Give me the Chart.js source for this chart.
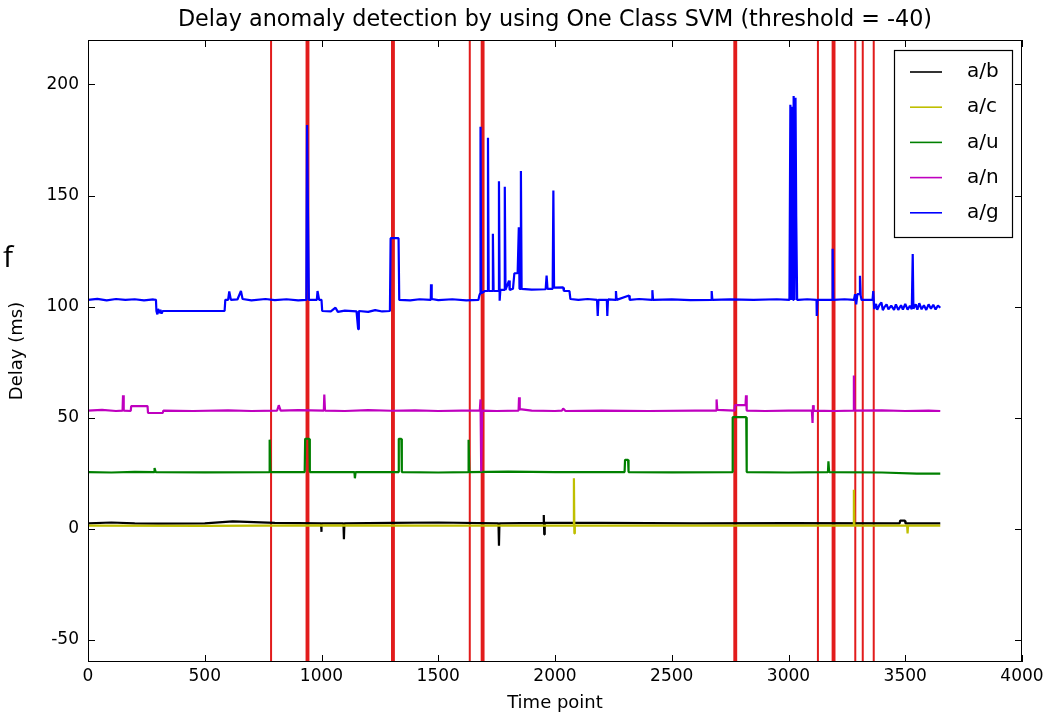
<!DOCTYPE html>
<html>
<head>
<meta charset="utf-8">
<title>Delay anomaly detection</title>
<script src="https://cdn.jsdelivr.net/npm/chart.js@4/dist/chart.umd.min.js"></script>
<style>
  html, body { margin: 0; padding: 0; background: #ffffff; }
  #wrap { position: relative; width: 1043px; height: 714px; }
  #side { position: absolute; left: 3px; top: 241px; font: 30px/1 "Open Sans", sans-serif; color: #000; }
</style>
</head>
<body>
<div id="wrap">
  <canvas id="c" width="1043" height="714"></canvas>
  <div id="side">f</div>
</div>
<script>
// Axis ranges and tick labels
const X_MIN = 0, X_MAX = 4000;
const Y_MIN = -60, Y_MAX = 220;
const X_TICKS = [0, 500, 1000, 1500, 2000, 2500, 3000, 3500, 4000];
const Y_TICKS = [-50, 0, 50, 100, 150, 200];
const TITLE = 'Delay anomaly detection by using One Class SVM (threshold = -40)';

// Time points flagged as anomalies by the detector
const ANOMALIES = [784, 936, 944, 1302, 1310, 1635, 1686, 1694, 2768, 2776,
                   3126, 3189, 3197, 3286, 3318, 3365];

// Delay series, [time point, delay in ms]
const AB = [[0,2.4],[100,2.8],[200,2.4],[300,2.3],[500,2.4],[620,3.3],[800,2.6],[998,2.4],[999,-1.4],[1001,2.4],
  [1094,2.4],[1096,-4.7],[1098,2.4],[1300,2.6],[1500,2.8],[1758,2.4],[1760,-7.7],[1762,2.4],[1950,2.6],
  [1952,6.2],[1954,-2.6],[1956,2.6],[2200,2.6],[2600,2.4],[3000,2.5],[3476,2.4],[3478,3.6],[3499,3.6],
  [3501,2.4],[3650,2.4]];

const AC = [[0,1.4],[500,1.3],[1000,1.5],[1500,1.4],[2079,1.4],[2081,22.7],[2083,-2.1],[2085,1.4],[2600,1.4],
  [3278,1.4],[3280,17.5],[3282,1.4],[3508,1.4],[3510,-2.1],[3512,1.4],[3650,1.4]];

const AU = [[0,25.5],[100,25.3],[200,25.6],[283,25.5],[285,27.3],[290,25.5],[500,25.4],[776,25.5],[778,40.1],
  [781,25.5],[928,25.5],[930,40.5],[948,40.5],[950,25.5],[1100,25.5],[1141,25.5],[1143,22.7],[1146,25.5],
  [1329,25.5],[1331,40.5],[1342,40.5],[1344,25.5],[1500,25.3],[1628,25.5],[1630,40],[1633,25.5],[1800,25.7],
  [2000,25.5],[2298,25.5],[2300,31],[2313,31],[2315,25.5],[2500,25.4],[2759,25.5],[2761,50.2],[2819,50.2],
  [2821,25.5],[3000,25.3],[3169,25.5],[3171,30.3],[3174,25.5],[3400,25.3],[3550,24.8],[3650,24.8]];

const AN = [[0,53.2],[60,53.5],[120,53],[148,53.2],[150,60.1],[153,53.2],[183,53],[185,55.2],[255,55.2],
  [257,52.1],[320,52.1],[323,53.2],[450,53],[600,53.3],[700,53],[810,53.2],[817,55.6],[825,53.2],[900,53.4],
  [1010,53.2],[1012,60.4],[1015,53.2],[1100,53],[1200,53.4],[1300,53.1],[1400,53.3],[1500,53],[1600,53.2],
  [1678,53.2],[1681,58.2],[1684,25.8],[1688,53.2],[1750,53],[1844,53.2],[1846,59.2],[1849,53.8],[1900,53.2],
  [2000,53],[2030,53.2],[2035,54.1],[2045,53],[2200,53.2],[2400,53],[2600,53.2],[2690,53.2],[2692,58.2],
  [2695,53.5],[2769,53.2],[2771,55.6],[2816,55.6],[2818,60.1],[2821,53.2],[2900,53],[3000,53.2],[3100,53.2],
  [3103,47.6],[3105,55.6],[3108,53.2],[3200,53],[3278,53.2],[3280,69],[3283,53.2],[3400,53.3],[3500,53],
  [3600,53.2],[3650,53]];

const AG = [[0,103],[40,103.5],[80,102.8],[120,103.4],[160,103],[200,103.3],[240,102.8],[280,103.2],[291,103],
  [293,98],[297,96.5],[300,99],[305,97],[310,98.5],[315,96.8],[320,98],[585,98],[588,103],[600,103],[605,106.8],
  [612,103],[640,103.2],[655,107],[662,103.4],[700,102.8],[760,103.4],[800,102.9],[850,103.3],[900,102.8],
  [935,103],[938,181.7],[942,181.7],[946,103],[980,103],[983,107],[990,103],[1000,103],[1003,98],[1040,97.8],
  [1060,99.5],[1070,97.6],[1100,98.2],[1150,97.8],[1157,89.8],[1160,98],[1200,97.6],[1230,98.4],[1260,97.8],
  [1293,98],[1296,130.8],[1330,130.8],[1333,103],[1380,102.8],[1420,103.3],[1468,103],[1469,110],[1472,103.4],
  [1500,102.9],[1560,103.3],[1620,102.8],[1672,103],[1676,105],[1680,106],[1681,181],[1684,106],[1700,107],
  [1712,107],[1713,176],[1716,107],[1732,107],[1734,132.8],[1737,107],[1758,107],[1760,156.4],[1763,102.6],
  [1766,107.5],[1783,107.5],[1785,153.9],[1788,107.5],[1803,111.7],[1806,107.5],[1820,108],[1826,115],
  [1840,115],[1845,135.7],[1848,108],[1852,108],[1854,161],[1857,108],[1900,107.6],[1960,107.8],[1964,113.9],
  [1968,108],[1990,108],[1993,152.3],[1996,108.5],[2035,108.6],[2038,107],[2062,107],[2066,103.4],[2100,103],
  [2140,103.4],[2180,103],[2183,95.8],[2186,103],[2222,103],[2224,95.8],[2227,103.2],[2260,103],[2261,107],
  [2264,103],[2317,105],[2320,103],[2360,103.4],[2416,103],[2417,107.4],[2420,103],[2500,103.2],[2580,102.9],
  [2670,103],[2671,107],[2674,103],[2750,103.2],[2850,103],[2950,103.3],[3004,103],[3008,190.8],[3012,103],
  [3016,190],[3020,103],[3022,194.8],[3026,103],[3030,194],[3033,141],[3037,103],[3042,103],[3080,103.3],
  [3120,103],[3121,95.8],[3124,103],[3188,103],[3189,126],[3192,103],[3240,103.3],[3280,103],[3285,105.6],
  [3290,101],[3295,105.6],[3305,105.6],[3306,113.9],[3309,105],[3313,103],[3360,103],[3363,107],[3367,98.9],
  [3375,101.2],[3380,98.6],[3390,100.8],[3398,101.8],[3404,98.4],[3410,99.6],[3420,101],[3428,98.8],
  [3440,100.4],[3452,98.5],[3460,101],[3470,98.5],[3482,100.6],[3490,98.7],[3500,101.2],[3510,98.6],
  [3520,100.4],[3528,98.8],[3532,123.7],[3535,99],[3545,101],[3552,98.6],[3560,101.5],[3570,98.8],
  [3580,100.6],[3590,98.5],[3600,101],[3610,99],[3620,100.8],[3630,98.7],[3640,100.5],[3650,99.5]];

const SERIES = [
  { label: 'a/b', points: AB, color: '#000000' },
  { label: 'a/c', points: AC, color: '#bfbf00' },
  { label: 'a/u', points: AU, color: '#008000' },
  { label: 'a/n', points: AN, color: '#bf00bf' },
  { label: 'a/g', points: AG, color: '#0000ff' }
];

const FONT = '"DejaVu Sans", "Liberation Sans", sans-serif';

const toXY = pts => pts.map(p => ({ x: p[0], y: p[1] }));

const datasets = SERIES.map((s, i) => ({
  label: s.label,
  data: toXY(s.points),
  borderColor: s.color,
  backgroundColor: s.color,
  borderWidth: 2.2,
  pointRadius: 0,
  tension: 0,
  order: SERIES.length - i,
  borderJoinStyle: 'bevel'
}));

// vertical marker at every anomaly time point
datasets.push({
  label: 'anomaly',
  data: ANOMALIES.flatMap(t => [{ x: t, y: Y_MIN }, { x: t, y: Y_MAX }, { x: t, y: null }]),
  borderColor: '#e21c1c',
  borderWidth: 2,
  pointRadius: 0,
  spanGaps: false,
  order: 100
});

// title centred over the plot area
const titlePlugin = {
  id: 'plotTitle',
  afterDraw(chart) {
    const { ctx, chartArea: a } = chart;
    ctx.save();
    ctx.font = '22.3px ' + FONT;
    ctx.fillStyle = '#000';
    ctx.textAlign = 'center';
    ctx.textBaseline = 'middle';
    ctx.fillText(TITLE, (a.left + a.right) / 2, a.top / 2);
    ctx.restore();
  }
};

// axes frame with inward ticks on all four sides
const framePlugin = {
  id: 'frame',
  afterDraw(chart) {
    const { ctx, chartArea: a, scales } = chart;
    const len = 7;
    ctx.save();
    ctx.strokeStyle = '#000';
    ctx.lineWidth = 1;
    ctx.strokeRect(a.left + 0.5, a.top + 0.5, a.right - a.left - 1, a.bottom - a.top - 1);
    ctx.beginPath();
    X_TICKS.forEach(v => {
      const px = Math.round(scales.x.getPixelForValue(v)) + 0.5;
      ctx.moveTo(px, a.bottom); ctx.lineTo(px, a.bottom - len);
      ctx.moveTo(px, a.top); ctx.lineTo(px, a.top + len);
    });
    Y_TICKS.forEach(v => {
      const py = Math.round(scales.y.getPixelForValue(v)) + 0.5;
      ctx.moveTo(a.left, py); ctx.lineTo(a.left + len, py);
      ctx.moveTo(a.right, py); ctx.lineTo(a.right - len, py);
    });
    ctx.stroke();
    ctx.restore();
  }
};

// boxed legend in the upper right of the plot area
const legendPlugin = {
  id: 'boxLegend',
  afterDraw(chart) {
    const { ctx, chartArea: a } = chart;
    const items = chart.data.datasets.filter(d => d.label !== 'anomaly');
    const boxW = 118, rowH = 35.2, boxH = 187;
    const x0 = a.right - 10 - boxW, y0 = a.top + 10;
    ctx.save();
    ctx.fillStyle = '#fff';
    ctx.fillRect(x0, y0, boxW, boxH);
    ctx.strokeStyle = '#000';
    ctx.lineWidth = 1.2;
    ctx.strokeRect(x0 + 0.5, y0 + 0.5, boxW, boxH);
    ctx.font = '20px ' + FONT;
    ctx.textBaseline = 'middle';
    items.forEach((d, i) => {
      const cy = y0 + 22 + i * rowH;
      ctx.strokeStyle = d.borderColor;
      ctx.lineWidth = 1.6;
      ctx.beginPath();
      ctx.moveTo(x0 + 16, cy); ctx.lineTo(x0 + 48, cy);
      ctx.stroke();
      ctx.fillStyle = '#000';
      ctx.fillText(d.label, x0 + 73, cy);
    });
    ctx.restore();
  }
};

new Chart(document.getElementById('c'), {
  type: 'line',
  data: { datasets },
  options: {
    responsive: false,
    animation: false,
    events: [],
    layout: { padding: { top: 40, right: 21, left: 0, bottom: 0 } },
    plugins: {
      legend: { display: false },
      tooltip: { enabled: false },
      title: { display: false }
    },
    scales: {
      x: {
        type: 'linear',
        min: X_MIN, max: X_MAX,
        afterBuildTicks: s => { s.ticks = X_TICKS.map(v => ({ value: v })); },
        afterFit: s => { s.height = 52; s.paddingLeft = 0; s.paddingRight = 0; },
        grid: { display: false, drawTicks: false },
        border: { display: false },
        ticks: { color: '#000', font: { family: FONT, size: 17 }, padding: 4, maxRotation: 0, autoSkip: false,
                 callback: v => String(v) },
        title: { display: true, text: 'Time point', color: '#000', font: { family: FONT, size: 18 }, padding: { top: 0, bottom: 0 } }
      },
      y: {
        type: 'linear',
        min: Y_MIN, max: Y_MAX,
        afterBuildTicks: s => { s.ticks = Y_TICKS.map(v => ({ value: v })); },
        afterFit: s => { s.width = 88; s.paddingTop = 0; s.paddingBottom = 0; },
        grid: { display: false, drawTicks: false },
        border: { display: false },
        ticks: { color: '#000', font: { family: FONT, size: 17 }, padding: 9, autoSkip: false,
                 callback: v => String(v) },
        title: { display: true, text: 'Delay (ms)', color: '#000', font: { family: FONT, size: 18 }, padding: { top: 7, bottom: 0 } }
      }
    }
  },
  plugins: [framePlugin, legendPlugin, titlePlugin]
});
</script>
</body>
</html>
